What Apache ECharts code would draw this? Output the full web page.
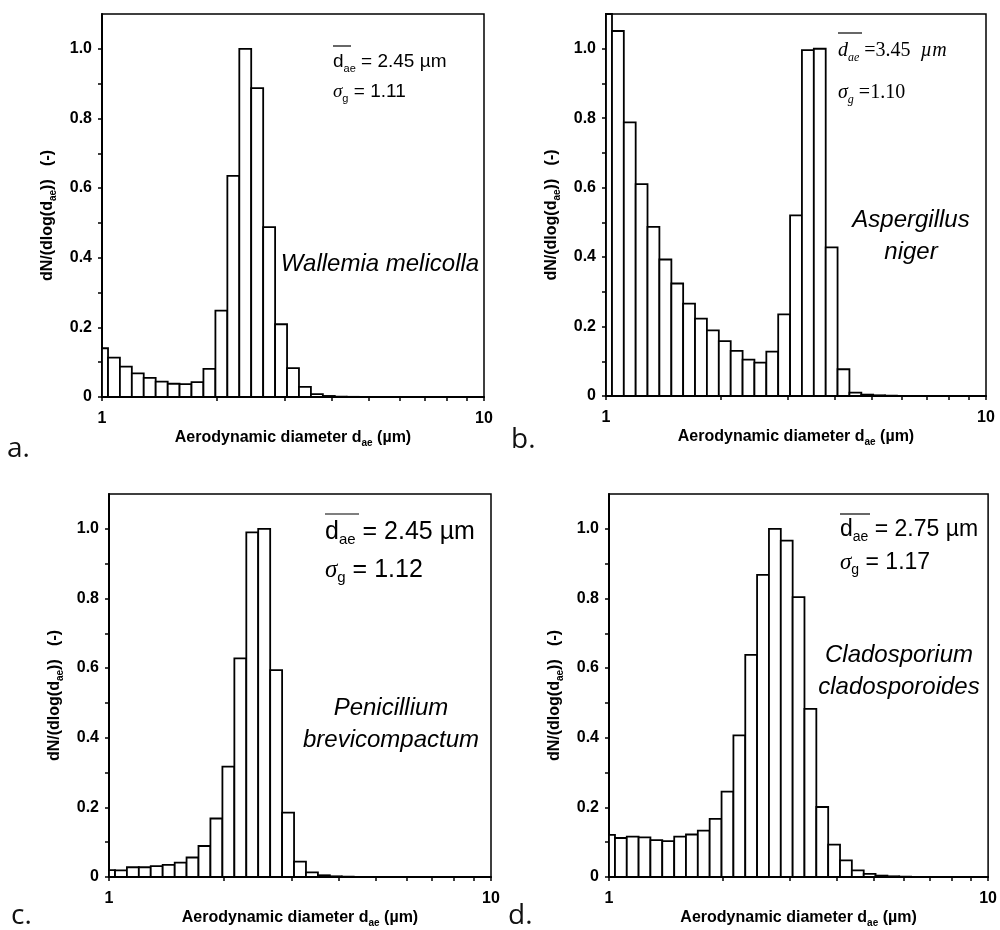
<!DOCTYPE html>
<html>
<head>
<meta charset="utf-8">
<script src="https://cdn.jsdelivr.net/npm/echarts@6.0.0/dist/echarts.min.js"></script>
<style>
  html, body { margin: 0; padding: 0; background: #fff; }
  #chart { width: 1000px; height: 930px; }
</style>
</head>
<body>
<div id="chart"></div>
<script>
// Aerodynamic particle sizer channel boundaries (µm)
const BIN_EDGES = [0.965, 1.037, 1.114, 1.197, 1.286, 1.382, 1.486, 1.596, 1.715, 1.843, 1.981,
  2.129, 2.288, 2.458, 2.642, 2.839, 3.051, 3.278, 3.523, 3.786, 4.068, 4.371, 4.698, 5.048,
  5.425, 5.829, 6.264, 6.732, 7.234, 7.774, 8.354, 8.977, 9.647, 10.37];

const WALLEMIA = [0.140, 0.113, 0.087, 0.068, 0.055, 0.044, 0.038, 0.037, 0.043, 0.081, 0.248,
  0.635, 1.000, 0.887, 0.488, 0.209, 0.083, 0.029, 0.008, 0.003, 0.001, 0.0005, 0, 0, 0, 0, 0,
  0, 0, 0, 0, 0, 0];
const ASPERGILLUS = [1.35, 1.051, 0.788, 0.610, 0.487, 0.393, 0.324, 0.266, 0.223, 0.189, 0.158,
  0.130, 0.105, 0.096, 0.128, 0.235, 0.520, 0.996, 1.000, 0.428, 0.077, 0.010, 0.004, 0.002,
  0.001, 0, 0, 0, 0, 0, 0, 0, 0];
const PENICILLIUM = [0.020, 0.019, 0.028, 0.028, 0.031, 0.035, 0.041, 0.056, 0.089, 0.168, 0.317,
  0.628, 0.990, 1.000, 0.594, 0.185, 0.044, 0.013, 0.005, 0.002, 0.001, 0, 0, 0, 0, 0, 0, 0, 0,
  0, 0, 0, 0];
const CLADOSPORIUM = [0.121, 0.112, 0.116, 0.114, 0.106, 0.103, 0.116, 0.122, 0.133, 0.167, 0.245,
  0.407, 0.638, 0.868, 1.000, 0.966, 0.804, 0.483, 0.201, 0.093, 0.048, 0.019, 0.009, 0.004,
  0.002, 0.001, 0, 0, 0, 0, 0, 0, 0];

const X_TICK_LABELS = [1, 10];
const X_TICKS = [1, 2, 3, 4, 5, 6, 7, 8, 9, 10];
const Y_TICK_LABELS = [0, 0.2, 0.4, 0.6, 0.8, 1.0];
const Y_TICKS = [0, 0.1, 0.2, 0.3, 0.4, 0.5, 0.6, 0.7, 0.8, 0.9, 1.0];

const SPECIES = [['Wallemia melicolla'], ['Aspergillus', 'niger'], ['Penicillium', 'brevicompactum'], ['Cladosporium', 'cladosporoides']];
const MEAN_D = ['2.45', '3.45', '2.45', '2.75'];
const SIGMA_G = ['1.11', '1.10', '1.12', '1.17'];
const PANEL_LETTERS = ['a.', 'b.', 'c.', 'd.'];
const SERIES_VALUES = [WALLEMIA, ASPERGILLUS, PENICILLIUM, CLADOSPORIUM];

const SANS = "'Liberation Sans', Arial, sans-serif";
const SERIF = "'Liberation Serif', 'Times New Roman', serif";

const GRIDS = [
  { left: 102, top: 14, width: 382, height: 383 },
  { left: 606, top: 14, width: 380, height: 382 },
  { left: 109, top: 494, width: 382, height: 383 },
  { left: 609, top: 494, width: 382, height: 383 }
];

function renderBar(params, api) {
  const lo = api.value(0), hi = api.value(1), h = api.value(2);
  const p0 = api.coord([lo, 0]);
  const p1 = api.coord([hi, h]);
  const cs = params.coordSys;
  const rect = echarts.graphic.clipRectByRect(
    { x: p0[0], y: p1[1], width: p1[0] - p0[0], height: p0[1] - p1[1] },
    { x: cs.x, y: cs.y, width: cs.width, height: cs.height }
  );
  if (!rect) return;
  return { type: 'rect', shape: rect, style: { fill: '#fff', stroke: '#000', lineWidth: 1.8 } };
}

const subRich = (F, fam, italic) => ({
  m: { fontSize: F, fontFamily: fam, lineHeight: Math.round(F * 1.25), color: '#000', fontStyle: italic ? 'italic' : 'normal' },
  mu: { fontSize: F, fontFamily: fam, lineHeight: Math.round(F * 1.25), color: '#000' },
  s: { fontSize: Math.round(F * 0.6), fontFamily: fam, lineHeight: Math.round(F * 0.6), verticalAlign: 'bottom', color: '#000', fontStyle: italic ? 'italic' : 'normal' },
  g: { fontSize: F, fontFamily: SERIF, fontStyle: 'italic', lineHeight: Math.round(F * 1.25), color: '#000' }
});

const xAxes = [], yAxes = [], series = [];
GRIDS.forEach((g, i) => {
  xAxes.push({
    gridIndex: i, type: 'value', min: 0, max: 1,
    axisLine: { show: true, onZero: false, lineStyle: { color: '#000', width: 2 } },
    axisTick: { show: true, inside: false, length: 4, lineStyle: { color: '#000', width: 1.5 },
      customValues: X_TICKS.map(v => Math.log10(v)) },
    axisLabel: { customValues: X_TICK_LABELS.map(v => Math.log10(v)), showMinLabel: true, showMaxLabel: true,
      formatter: v => String(Math.round(Math.pow(10, v))),
      color: '#000', fontWeight: 'bold', fontSize: 16, fontFamily: SANS, margin: 14 },
    splitLine: { show: false },
    name: 'Aerodynamic diameter d{s|ae} (µm)', nameLocation: 'middle', nameGap: 27,
    nameTextStyle: { color: '#000', fontWeight: 'bold', fontSize: 16, fontFamily: SANS, lineHeight: 20,
      rich: { s: { fontSize: 10, fontWeight: 'bold', fontFamily: SANS, lineHeight: 10, verticalAlign: 'bottom', color: '#000' } } }
  });
  yAxes.push({
    gridIndex: i, type: 'value', min: 0, max: 1.1,
    axisLine: { show: true, onZero: false, lineStyle: { color: '#000', width: 2 } },
    axisTick: { show: true, inside: false, length: 4, lineStyle: { color: '#000', width: 1.5 }, customValues: Y_TICKS },
    axisLabel: { customValues: Y_TICK_LABELS, formatter: v => (v === 0 ? '0' : v.toFixed(1)),
      color: '#000', fontWeight: 'bold', fontSize: 16, fontFamily: SANS, margin: 10 },
    splitLine: { show: false },
    name: 'dN/(dlog(d{s|ae}))   (-)', nameLocation: 'middle', nameGap: 44, nameRotate: 90,
    nameTextStyle: { color: '#000', fontWeight: 'bold', fontSize: 16, fontFamily: SANS, lineHeight: 20, padding: [0, 20, 0, 0],
      rich: { s: { fontSize: 10, fontWeight: 'bold', fontFamily: SANS, lineHeight: 10, verticalAlign: 'bottom', color: '#000' } } }
  });
  const vals = SERIES_VALUES[i];
  series.push({
    type: 'custom', xAxisIndex: i, yAxisIndex: i,
    renderItem: renderBar,
    encode: { x: [0, 1], y: 2 },
    data: vals.map((v, k) => [Math.log10(BIN_EDGES[k]), Math.log10(BIN_EDGES[k + 1]), v]),
    silent: true, z: 2
  });
});

// Annotation layout (pixel positions of text only)
const ANNOT = [
  { x: 333, y1: 62, y2: 92, F: 19, ol: [333, 351, 46] },
  { x: 838, y1: 51, y2: 93, F: 20, ol: [838, 862, 33] },
  { x: 325, y1: 532, y2: 570, F: 25, ol: [325, 359, 514] },
  { x: 840, y1: 530, y2: 563, F: 23, ol: [840, 870, 514] }
];
const SPECIES_POS = [
  { x: 380, y: 264, F: 24 },
  { x: 911, y: 220, F: 24 },
  { x: 391, y: 708, F: 24 },
  { x: 899, y: 655, F: 24 }
];
const LETTER_POS = [[7, 449], [511, 440], [11, 916], [508, 916]];

const graphic = [];
ANNOT.forEach((a, i) => {
  const serif = i === 1;
  let t1, t2, rich;
  if (serif) {
    rich = subRich(a.F, SERIF, true);
    t1 = '{m|d}{s|ae}{mu| =3.45  }{m|µm}';
    t2 = '{g|σ}{s|g}{mu| =' + SIGMA_G[i] + '}';
  } else {
    rich = subRich(a.F, SANS, false);
    t1 = '{m|d}{s|ae}{m| = ' + MEAN_D[i] + ' µm}';
    t2 = '{g|σ}{s|g}{m| = ' + SIGMA_G[i] + '}';
  }
  graphic.push({ type: 'text', x: a.x, y: a.y1, style: { text: t1, rich: rich, align: 'left', verticalAlign: 'middle' } });
  graphic.push({ type: 'text', x: a.x, y: a.y2, style: { text: t2, rich: rich, align: 'left', verticalAlign: 'middle' } });
  graphic.push({ type: 'line', shape: { x1: a.ol[0], y1: a.ol[2], x2: a.ol[1], y2: a.ol[2] }, style: { stroke: '#000', lineWidth: 1.2 } });
});
SPECIES.forEach((lines, i) => {
  const p = SPECIES_POS[i];
  lines.forEach((ln, k) => {
    graphic.push({ type: 'text', x: p.x, y: p.y + k * 32,
      style: { text: ln, fontSize: p.F, fontStyle: 'italic', fontFamily: SANS, fill: '#000', align: 'center', verticalAlign: 'middle' } });
  });
});
PANEL_LETTERS.forEach((l, i) => {
  graphic.push({ type: 'text', x: LETTER_POS[i][0], y: LETTER_POS[i][1],
    style: { text: l, fontSize: 28, fontFamily: "'Open Sans', 'Noto Sans', sans-serif", fill: '#111', align: 'left', verticalAlign: 'middle' } });
});

const chart = echarts.init(document.getElementById('chart'), null, { renderer: 'canvas' });
chart.setOption({
  backgroundColor: '#fff',
  animation: false,
  grid: GRIDS.map(g => Object.assign({ show: true, borderColor: '#000', borderWidth: 1.5, backgroundColor: 'transparent', containLabel: false }, g)),
  xAxis: xAxes,
  yAxis: yAxes,
  series: series,
  graphic: graphic
});
</script>
</body>
</html>
